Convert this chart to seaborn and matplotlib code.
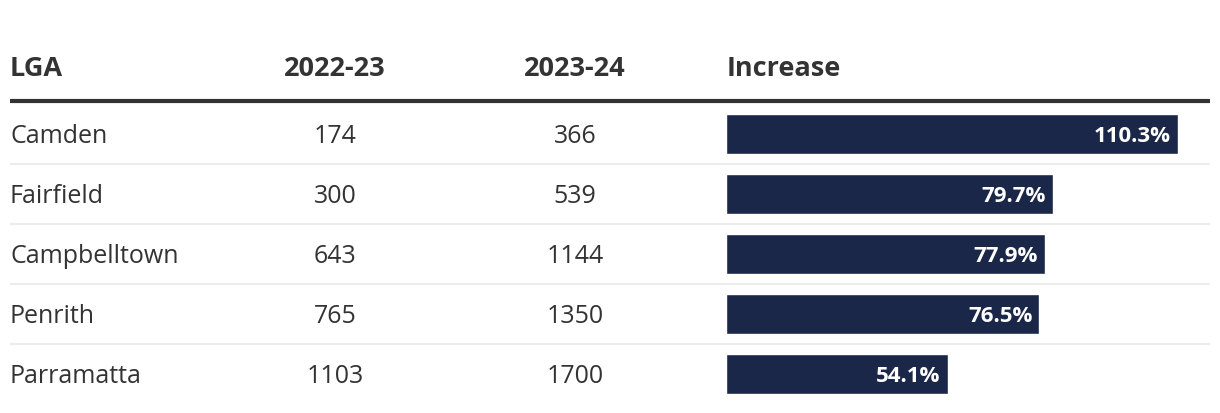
import pandas as pd
import matplotlib.pyplot as plt
import seaborn as sns

# table data
lga = ["Camden", "Fairfield", "Campbelltown", "Penrith", "Parramatta"]
y2022 = [174, 300, 643, 765, 1103]
y2023 = [366, 539, 1144, 1350, 1700]
increase = [110.3, 79.7, 77.9, 76.5, 54.1]
headers = ["LGA", "2022-23", "2023-24", "Increase"]

df = pd.DataFrame({"LGA": lga, "2022-23": y2022, "2023-24": y2023, "Increase": increase})

sns.set_style("white")
plt.rcParams["font.family"] = ["Open Sans", "DejaVu Sans"]

W, H = 1220, 414
fig = plt.figure(figsize=(W / 100, H / 100), dpi=100)

# overlay axes in pixel coordinates for text and rules
ax = fig.add_axes([0, 0, 1, 1])
ax.set_xlim(0, W)
ax.set_ylim(H, 0)
ax.axis("off")

txt = "#333333"
hs = 19.5
hb = 76  # header baseline
ax.text(10, hb, headers[0], fontsize=hs, fontweight="bold", color=txt, va="baseline", ha="left")
ax.text(335, hb, headers[1], fontsize=hs, fontweight="bold", color=txt, va="baseline", ha="center")
ax.text(575, hb, headers[2], fontsize=hs, fontweight="bold", color=txt, va="baseline", ha="center")
ax.text(727, hb, headers[3], fontsize=hs, fontweight="bold", color=txt, va="baseline", ha="left")
ax.plot([10, 1210], [102, 102], color="#333333", lw=3, solid_capstyle="butt")

row0, rowh = 135, 60
bs = 18
for i, row in df.iterrows():
    yc = row0 + i * rowh
    ax.text(10, yc + 8, row["LGA"], fontsize=bs, color=txt, va="baseline", ha="left")
    ax.text(335, yc + 8, str(row["2022-23"]), fontsize=bs, color=txt, va="baseline", ha="center")
    ax.text(575, yc + 8, str(row["2023-24"]), fontsize=bs, color=txt, va="baseline", ha="center")
    if i < len(df) - 1:
        ax.plot([10, 1210], [yc + 30, yc + 30], color="#ececec", lw=1.5, solid_capstyle="butt")

# bar axes: 1 percentage point = ~4.1 px
scale = 4.098
x0 = 726
xmax = 120
bax = fig.add_axes([x0 / W, (H - 405) / H, xmax * scale / W, 300 / H])
sns.barplot(data=df, x="Increase", y="LGA", color="#1b2748", width=40 / 60,
            saturation=1, ax=bax, orient="h")
bax.set_xlim(0, xmax)
bax.set_ylim(len(df) - 0.5, -0.5)
bax.axis("off")
bax.patch.set_alpha(0)
for i, v in enumerate(increase):
    bax.text(v - 7 / scale, i + 7.5 / 60, f"{v}%", color="white", fontsize=16, fontweight="bold",
             va="baseline", ha="right")

fig.savefig("out.png", dpi=100)
